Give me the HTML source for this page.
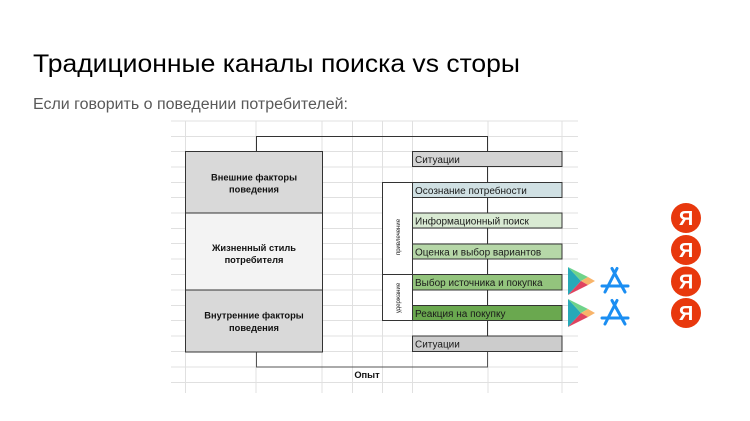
<!DOCTYPE html>
<html><head><meta charset="utf-8"><style>
html,body{margin:0;padding:0;background:#fff;}
svg{display:block;}
text{font-family:"Liberation Sans",Arial,sans-serif;}
</style></head><body>
<svg width="750" height="421" viewBox="0 0 750 421" xmlns="http://www.w3.org/2000/svg">
<rect width="750" height="421" fill="#ffffff"/>
<text x="33" y="72" font-size="25" fill="#000" textLength="487" lengthAdjust="spacingAndGlyphs">Традиционные каналы поиска vs сторы</text>
<text x="33" y="109" font-size="15.5" fill="#595959" textLength="315" lengthAdjust="spacingAndGlyphs">Если говорить о поведении потребителей:</text>

<!-- grid -->
<g stroke="#e0e0e0" stroke-width="1">
<line x1="171" y1="121" x2="578" y2="121"/>
<line x1="171" y1="136.5" x2="578" y2="136.5"/>
<line x1="171" y1="151.5" x2="578" y2="151.5"/>
<line x1="171" y1="167" x2="578" y2="167"/>
<line x1="171" y1="182.5" x2="578" y2="182.5"/>
<line x1="171" y1="197.5" x2="578" y2="197.5"/>
<line x1="171" y1="213" x2="578" y2="213"/>
<line x1="171" y1="228.5" x2="578" y2="228.5"/>
<line x1="171" y1="243.5" x2="578" y2="243.5"/>
<line x1="171" y1="259" x2="578" y2="259"/>
<line x1="171" y1="274.5" x2="578" y2="274.5"/>
<line x1="171" y1="290" x2="578" y2="290"/>
<line x1="171" y1="305.5" x2="578" y2="305.5"/>
<line x1="171" y1="320.5" x2="578" y2="320.5"/>
<line x1="171" y1="336" x2="578" y2="336"/>
<line x1="171" y1="351.5" x2="578" y2="351.5"/>
<line x1="171" y1="367" x2="578" y2="367"/>
<line x1="171" y1="382.5" x2="578" y2="382.5"/>
<line x1="185.5" y1="121" x2="185.5" y2="393"/>
<line x1="256" y1="121" x2="256" y2="393"/>
<line x1="322" y1="121" x2="322" y2="393"/>
<line x1="352.5" y1="121" x2="352.5" y2="393"/>
<line x1="382.5" y1="121" x2="382.5" y2="393"/>
<line x1="412.5" y1="121" x2="412.5" y2="393"/>
<line x1="488" y1="121" x2="488" y2="393"/>
<line x1="562" y1="121" x2="562" y2="393"/>
</g>

<!-- connectors -->
<g fill="none" stroke="#333" stroke-width="1">
<path d="M256.5,151.5 V136.5 H487.5 V152"/>
<path d="M256.5,352 V367 H487.5 V352" stroke="#555"/>
<line x1="487.5" y1="167" x2="487.5" y2="336"/>
</g>

<!-- left boxes -->
<g stroke="#333" stroke-width="1">
<rect x="185.5" y="151.5" width="137" height="61.5" fill="#d9d9d9"/>
<rect x="185.5" y="213" width="137" height="77" fill="#f3f3f3"/>
<rect x="185.5" y="290" width="137" height="62" fill="#d9d9d9"/>
</g>
<g font-size="9.3" font-weight="bold" fill="#111" text-anchor="middle">
<text x="254" y="180.5">Внешние факторы</text>
<text x="254" y="192.5">поведения</text>
<text x="254" y="251">Жизненный стиль</text>
<text x="254" y="263">потребителя</text>
<text x="254" y="318.5">Внутренние факторы</text>
<text x="254" y="331">поведения</text>
<text x="367" y="378">Опыт</text>
</g>

<!-- bracket -->
<g stroke="#333" stroke-width="1">
<rect x="382.5" y="182.5" width="30" height="138" fill="#ffffff"/>
<line x1="382.5" y1="274.5" x2="412.5" y2="274.5"/>
</g>
<g font-size="6" fill="#222" text-anchor="middle">
<text transform="translate(400,237) rotate(-90)">привлечение</text>
<text transform="translate(400,298) rotate(-90)">удержание</text>
</g>

<!-- right boxes -->
<g stroke="#333" stroke-width="1">
<rect x="412.5" y="151.5" width="149.5" height="15" fill="#d4d4d4"/>
<rect x="412.5" y="182.5" width="149.5" height="15" fill="#d0e0e3"/>
<rect x="412.5" y="213" width="149.5" height="15" fill="#d9ead3"/>
<rect x="412.5" y="244" width="149.5" height="15" fill="#b6d7a8"/>
<rect x="412.5" y="274.5" width="149.5" height="15.5" fill="#93c47d"/>
<rect x="412.5" y="305.5" width="149.5" height="15" fill="#6aa84f"/>
<rect x="412.5" y="336" width="149.5" height="15.5" fill="#cccccc"/>
</g>
<g font-size="10" fill="#1a1a1a">
<text x="415" y="163">Ситуации</text>
<text x="415" y="194">Осознание потребности</text>
<text x="415" y="224.5">Информационный поиск</text>
<text x="415" y="255.5">Оценка и выбор вариантов</text>
<text x="415" y="286">Выбор источника и покупка</text>
<text x="415" y="317">Реакция на покупку</text>
<text x="415" y="347.5">Ситуации</text>
</g>

<!-- Google Play icons -->
<g>
<polygon points="568,267 581,281 568,295" fill="#27a9b8"/>
<polygon points="568,267 588,277 581,281" fill="#6fd38a"/>
<polygon points="588,277 595,281 588,285 581,281" fill="#f8b46a"/>
<polygon points="581,281 588,285 568,295" fill="#e0435f"/>
</g>
<g transform="translate(0,32)">
<polygon points="568,267 581,281 568,295" fill="#27a9b8"/>
<polygon points="568,267 588,277 581,281" fill="#6fd38a"/>
<polygon points="588,277 595,281 588,285 581,281" fill="#f8b46a"/>
<polygon points="581,281 588,285 568,295" fill="#e0435f"/>
</g>

<!-- App Store icons -->
<g stroke="#1b8ef2" stroke-width="3" stroke-linecap="round" fill="none">
<line x1="617" y1="268.5" x2="605" y2="292"/>
<line x1="612" y1="268.5" x2="625" y2="292"/>
<line x1="602" y1="286" x2="628" y2="286"/>
</g>
<g stroke="#1b8ef2" stroke-width="3" stroke-linecap="round" fill="none" transform="translate(0,32)">
<line x1="617" y1="268.5" x2="605" y2="292"/>
<line x1="612" y1="268.5" x2="625" y2="292"/>
<line x1="602" y1="286" x2="628" y2="286"/>
</g>

<!-- Yandex icons -->
<g>
<circle cx="686" cy="218" r="15" fill="#e8380d"/>
<circle cx="686" cy="250" r="15" fill="#e8380d"/>
<circle cx="686" cy="281.5" r="15" fill="#e8380d"/>
<circle cx="686" cy="313" r="15" fill="#e8380d"/>
</g>
<g font-size="20" font-weight="bold" fill="#fff" text-anchor="middle">
<text x="686" y="225">Я</text>
<text x="686" y="257">Я</text>
<text x="686" y="288.5">Я</text>
<text x="686" y="320">Я</text>
</g>
</svg>
</body></html>
